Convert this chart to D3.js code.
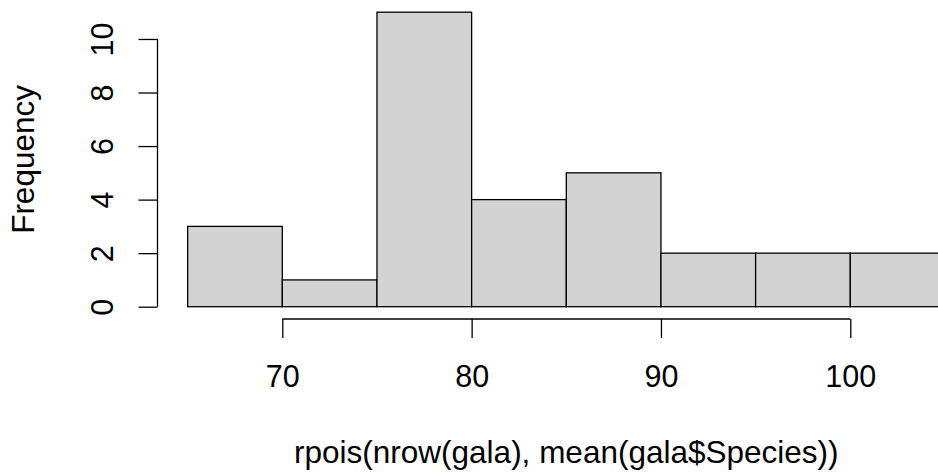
<!DOCTYPE html>
<html>
<head>
<meta charset="utf-8">
<script src="https://cdn.jsdelivr.net/npm/d3@7"></script>
<style>
  html, body { margin: 0; padding: 0; background: #fff; }
  svg { display: block; }
  text { font-family: "Liberation Sans", Arial, Helvetica, sans-serif; fill: #000; }
</style>
</head>
<body>
<svg id="chart" width="938" height="474"></svg>
<script>
// Histogram bins (break edges) and counts
const binStarts = [65, 70, 75, 80, 85, 90, 95, 100];
const binEnds   = [70, 75, 80, 85, 90, 95, 100, 105];
const counts    = [3, 1, 11, 4, 5, 2, 2, 2];

const xTicks = [70, 80, 90, 100];
const yTicks = [0, 2, 4, 6, 8, 10];

const xLabel = "rpois(nrow(gala), mean(gala$Species))";
const yLabel = "Frequency";

const svg = d3.select("#chart");
const tickFont = 30.5;
const titleFont = 31.5;

const x = d3.scaleLinear().domain([65, 105]).range([187.65, 944.95]);
const y = d3.scaleLinear().domain([0, 11]).range([306.7, 12.2]);

// Bars
svg.append("g")
  .selectAll("rect")
  .data(counts.map((c, i) => ({ x0: binStarts[i], x1: binEnds[i], n: c })))
  .join("rect")
  .attr("x", d => x(d.x0))
  .attr("y", d => y(d.n))
  .attr("width", d => x(d.x1) - x(d.x0))
  .attr("height", d => y(0) - y(d.n))
  .attr("fill", "#d3d3d3")
  .attr("stroke", "#000")
  .attr("stroke-width", 1.3);

// X axis
const xAxisY = 319;
const gx = svg.append("g").attr("transform", `translate(0,${xAxisY})`)
  .call(d3.axisBottom(x).tickValues(xTicks).tickSize(19).tickSizeOuter(0).tickPadding(0));
gx.select(".domain").remove();
gx.selectAll(".tick line").attr("stroke", "#000").attr("stroke-width", 1.3);
gx.selectAll(".tick text")
  .attr("y", 68).attr("dy", null)
  .style("font-size", tickFont + "px")
  .attr("fill", "#000");
gx.append("line")
  .attr("x1", x(xTicks[0])).attr("x2", x(xTicks[xTicks.length - 1]))
  .attr("y1", 0).attr("y2", 0)
  .attr("stroke", "#000").attr("stroke-width", 1.3);

// Y axis
const yAxisX = 157.5;
const gy = svg.append("g").attr("transform", `translate(${yAxisX},0)`)
  .call(d3.axisLeft(y).tickValues(yTicks).tickSize(19).tickSizeOuter(0));
gy.select(".domain").remove();
gy.selectAll(".tick line").attr("stroke", "#000").attr("stroke-width", 1.3);
gy.selectAll(".tick text")
  .attr("x", null).attr("dy", null)
  .attr("transform", "translate(-45,0) rotate(-90)")
  .attr("text-anchor", "middle")
  .style("font-size", tickFont + "px")
  .attr("fill", "#000");
gy.append("line")
  .attr("x1", 0).attr("x2", 0)
  .attr("y1", y(yTicks[0])).attr("y2", y(yTicks[yTicks.length - 1]))
  .attr("stroke", "#000").attr("stroke-width", 1.3);

// Axis titles
svg.append("text")
  .attr("x", x(85)).attr("y", 463)
  .attr("text-anchor", "middle")
  .style("font-size", titleFont + "px")
  .text(xLabel);

svg.append("text")
  .attr("transform", `translate(34,${y(5.5)}) rotate(-90)`)
  .attr("text-anchor", "middle")
  .style("font-size", titleFont + "px")
  .text(yLabel);
</script>
</body>
</html>
